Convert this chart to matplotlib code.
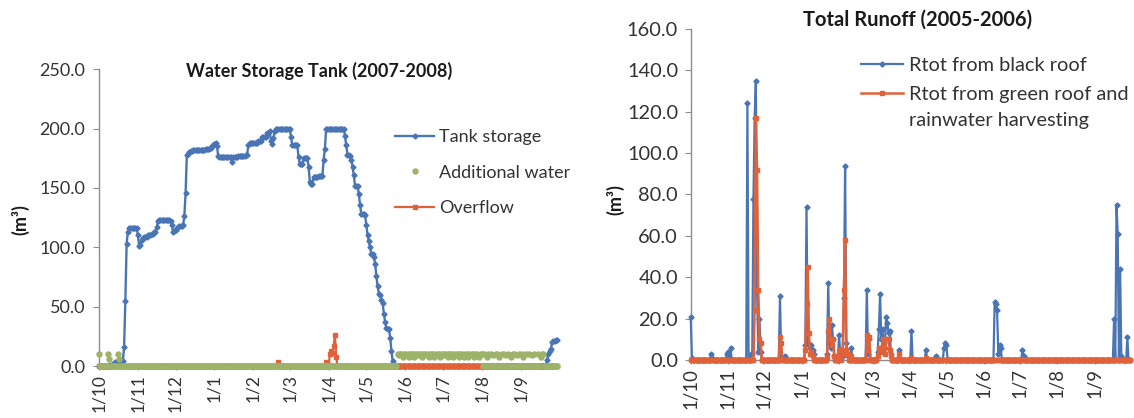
import numpy as np
import pandas as pd
import matplotlib
matplotlib.use('agg')
import matplotlib.pyplot as plt
import matplotlib.dates as mdates
from matplotlib.ticker import MultipleLocator, FormatStrFormatter, FuncFormatter

plt.rcParams['font.family'] = ['Lato', 'DejaVu Sans']

BLUE = '#4a75b5'
ORANGE = '#e0623a'
GREEN = '#9db36a'
AXIS = '#8c8c8c'
TEXT = '#333333'

# ---- Water storage tank, daily 1/10/2007 - 30/9/2008 ----
# tank storage as (value, number of days) runs
tank_values = [0, 1, 2, 3, 4, 16, 55, 103, 113, 116, 110, 101, 102, 106, 108, 109, 110,
               111, 113, 117, 122, 123, 122, 119, 113, 114, 115, 116, 117, 118, 119,
               126, 146, 178, 179, 180, 181, 182, 183, 184, 185, 186, 187, 188, 185,
               177, 176, 172, 176, 177, 178, 186, 188, 190, 193, 196, 198, 190, 187,
               192, 198, 200, 193, 186, 176, 170, 175, 168, 155, 153, 159, 160, 174,
               183, 200, 194, 186, 178, 177, 174, 168, 161, 152, 145, 136, 128, 127,
               119, 110, 105, 100, 94, 92, 86, 76, 67, 61, 60, 56, 53, 44, 37, 32, 31,
               24, 13, 4, 0, 5, 10, 13, 14, 20, 21, 22]
tank_runs = [9, 2, 2, 3, 4, 1, 1, 1, 1, 7, 1, 1, 1, 1, 1, 3, 3,
             2, 2, 1, 1, 9, 1, 1, 1, 1, 1, 1, 1, 3, 1,
             1, 1, 1, 1, 1, 2, 10, 4, 1, 1, 1, 1, 1, 1,
             1, 10, 1, 4, 6, 2, 1, 7, 3, 4, 2, 1, 1, 1,
             1, 1, 12, 1, 5, 1, 3, 4, 1, 1, 2, 4, 4, 1,
             1, 15, 1, 1, 2, 1, 1, 1, 1, 3, 1, 1, 3, 1,
             1, 1, 1, 1, 2, 1, 1, 1, 1, 1, 1, 1, 1, 1, 1, 1, 2,
             1, 1, 1, 122, 1, 1, 1, 1, 1, 2, 2]

add_water_early = {0: 10, 7: 10, 8: 6, 15: 10, 16: 6}
add_water_summer_start = 238
add_water_summer = [10, 9, 10, 10, 8, 10, 10, 9, 10, 8, 10, 10, 10, 8, 10, 10, 9, 10, 10, 8,
                    10, 10, 10, 9, 10, 8, 10, 10, 10, 8, 10, 9, 10, 10, 8, 10, 10, 9, 10, 10,
                    8, 10, 10, 10, 8, 10, 9, 10, 10, 8, 10, 10, 9, 8, 10, 10, 8, 10, 9, 10,
                    10, 8, 10, 10, 9, 8, 10, 10,
                    0, 10, 0, 8, 10, 0, 10, 0, 9, 0, 10, 10, 0, 8, 0, 10, 0, 10, 9, 0,
                    10, 0, 8, 0, 10, 10, 0, 9, 0, 10, 0, 10, 8, 0, 10, 0, 0, 10, 0, 9,
                    0, 10, 0, 0, 10, 0, 8, 10, 10]
overflow_events = {143: 3, 181: 3, 183: 1, 184: 10, 185: 13, 186: 11, 187: 17, 188: 26, 189: 8}

# ---- Total runoff, daily 1/10/2005 - 30/9/2006 ----
black_roof = {0: 21, 1: 1, 17: 3, 18: 1, 30: 3, 31: 4, 33: 6, 47: 124, 50: 3, 51: 3,
              52: 78, 53: 117, 54: 135, 55: 34, 56: 4, 57: 20, 58: 4,
              74: 31, 75: 2, 78: 2, 95: 7, 96: 74, 97: 8, 98: 7, 99: 6, 100: 7, 101: 5, 102: 3,
              113: 3, 114: 37, 115: 8, 116: 6, 117: 17, 118: 10, 119: 2,
              123: 12, 124: 3, 125: 1, 126: 2, 127: 30, 128: 94, 129: 8, 130: 2, 133: 6,
              146: 34, 147: 3, 148: 10,
              155: 4, 156: 15, 157: 32, 158: 10, 159: 15, 160: 8, 161: 6, 162: 21, 163: 18,
              164: 13, 165: 14, 166: 3, 173: 5, 183: 14, 195: 5, 203: 2, 210: 6, 211: 8, 212: 7,
              252: 28, 253: 27, 254: 24, 255: 3, 256: 7, 257: 6, 275: 5, 276: 2,
              351: 20, 353: 75, 354: 61, 356: 44, 357: 2, 362: 11}
green_roof = {53: 24, 54: 117, 55: 92, 56: 34, 57: 10, 58: 8, 74: 11, 75: 8,
              95: 5, 96: 27, 97: 45, 98: 13, 99: 3, 100: 4, 101: 2,
              113: 1, 114: 14, 115: 20, 116: 10, 117: 7, 118: 10, 119: 2,
              123: 4, 124: 5, 126: 3, 127: 34, 128: 58, 129: 5, 130: 3, 133: 2,
              146: 12, 147: 5, 148: 11,
              155: 2, 156: 6, 157: 5, 158: 4, 159: 10, 160: 6, 161: 3, 162: 10, 163: 10,
              164: 10, 165: 5, 166: 2, 173: 3, 183: 1, 195: 1}


def daily(n, events):
    arr = np.zeros(n)
    for d, v in events.items():
        arr[d] = v
    return arr


days1 = pd.date_range('2007-10-01', '2008-09-30', freq='D')
tank = np.repeat(tank_values, tank_runs)
overflow = daily(len(days1), overflow_events)
add_water = daily(len(days1), add_water_early)
add_water[add_water_summer_start:add_water_summer_start + len(add_water_summer)] = add_water_summer

days2 = pd.date_range('2005-10-01', '2006-09-30', freq='D')
black = daily(len(days2), black_roof)
green = daily(len(days2), green_roof)

fig = plt.figure(figsize=(11.34, 4.18), dpi=100)
ax1 = fig.add_axes([0.0873, 0.1244, 0.4045, 0.7098])
ax2 = fig.add_axes([0.6091, 0.1388, 0.3877, 0.7919])

h_tank, = ax1.plot(days1, tank, color=BLUE, lw=1.7, marker='D', ms=2.6,
                   zorder=3, clip_on=False, label='Tank storage')
h_over, = ax1.plot(days1, overflow, color=ORANGE, lw=1.6, marker='s', ms=2.2,
                   zorder=4, clip_on=False, label='Overflow')
h_add, = ax1.plot(days1, add_water, ls='none', color=GREEN, marker='o', ms=3.6,
                  zorder=5, clip_on=False, label='Additional water')

ax2.plot(days2, black, color=BLUE, lw=1.6, marker='D', ms=2.6, zorder=3,
         clip_on=False, label='Rtot from black roof')
ax2.plot(days2, green, color=ORANGE, lw=1.8, marker='s', ms=2.4, zorder=4,
         clip_on=False, label='Rtot from green roof and\nrainwater harvesting')

# (axis, dates, last day, y max, y step, y-label size, x-label size, y pad)
for ax, days, xend, ymax, step, yfs, xfs, ypad in [(ax1, days1, 365.5, 250, 50, 13, 12.5, 5.5),
                                                   (ax2, days2, 364.5, 160, 20, 14.4, 13.4, 4.8)]:
    ax.set_xlim(days[0], days[0] + pd.Timedelta(days=xend))
    ax.set_ylim(0, ymax)
    ax.yaxis.set_major_locator(MultipleLocator(step))
    ax.yaxis.set_major_formatter(FormatStrFormatter('%.1f'))
    ax.xaxis.set_major_locator(mdates.MonthLocator())
    ax.xaxis.set_major_formatter(FuncFormatter(lambda x, p: '1/%d' % mdates.num2date(x).month))
    for s in ['top', 'right']:
        ax.spines[s].set_visible(False)
    for s in ['left', 'bottom']:
        ax.spines[s].set_color(AXIS)
        ax.spines[s].set_linewidth(1.0)
    ax.tick_params(axis='y', direction='out', length=4.3, pad=ypad, color=AXIS,
                   labelcolor=TEXT, labelsize=yfs)
    ax.tick_params(axis='x', direction='out', length=3, pad=3, color=AXIS,
                   labelcolor=TEXT, labelsize=xfs, labelrotation=90)

fig.text(319 / 1134, 1 - 70.6 / 418, 'Water Storage Tank (2007-2008)', ha='center',
         va='center', fontsize=13, fontweight='bold', color='#1a1a1a')
fig.text(918 / 1134, 1 - 20 / 418, 'Total Runoff (2005-2006)', ha='center',
         va='center', fontsize=14.5, fontweight='bold', color='#1a1a1a')
fig.text(20 / 1134, 1 - 220 / 418, '(m³)', rotation=90, ha='center', va='center',
         fontsize=13, fontweight='bold', color='#1a1a1a')
fig.text(615 / 1134, 1 - 200 / 418, '(m³)', rotation=90, ha='center', va='center',
         fontsize=13, fontweight='bold', color='#1a1a1a')

leg1 = ax1.legend(handles=[h_tank, h_add, h_over], loc='upper left',
                  bbox_to_anchor=(395 / 1134, 1 - 129.5 / 418), bbox_transform=fig.transFigure,
                  frameon=False, fontsize=13, handlelength=2.16, handletextpad=0.28,
                  labelspacing=1.07, borderpad=0, borderaxespad=0)
leg2 = ax2.legend(loc='upper left', bbox_to_anchor=(861 / 1134, 1 - 57 / 418),
                  bbox_transform=fig.transFigure, frameon=False, fontsize=14.4,
                  handlelength=2.08, handletextpad=0.3, labelspacing=0.6,
                  borderpad=0, borderaxespad=0)
for leg in (leg1, leg2):
    for t in leg.get_texts():
        t.set_color(TEXT)
for t in leg2.get_texts():
    t.set_linespacing(1.65)
# put the handle of the two-line entry level with its first line
leg2._legend_handle_box.get_children()[0].get_children()[1].align = 'top'

fig.savefig('out.png', dpi=100)
